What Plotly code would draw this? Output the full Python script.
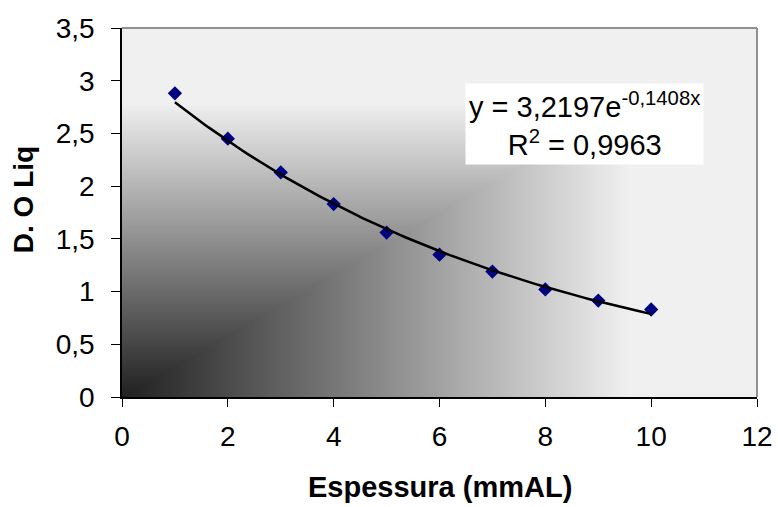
import numpy as np
import plotly.graph_objects as go

# Measured optical density vs. aluminium thickness
espessura = [1, 2, 3, 4, 5, 6, 7, 8, 9, 10]
do_liq = [2.88, 2.45, 2.13, 1.83, 1.56, 1.35, 1.19, 1.02, 0.915, 0.83]

# Exponential trendline coefficients: y = A * exp(k * x)
coef_a = 3.2197
coef_k = -0.1408
r2_label = "0,9963"

x_ticks = [0, 2, 4, 6, 8, 10, 12]
y_ticks = [0, 0.5, 1, 1.5, 2, 2.5, 3, 3.5]
y_ticktext = ["0", "0,5", "1", "1,5", "2", "2,5", "3", "3,5"]

FONT = "Liberation Sans, Arial, sans-serif"
X_MAX, Y_MAX = 12, 3.5

# Corner gradient behind the plot: dark at the origin, fading out to light grey
n = 160
gx = np.linspace(0, X_MAX, n)
gy = np.linspace(0, Y_MAX, n)
u, v = np.meshgrid(gx / X_MAX, gy / Y_MAX)
shade = np.maximum(u, v)

fig = go.Figure()
fig.add_trace(go.Heatmap(
    x=gx, y=gy, z=shade, zmin=0, zmax=1, zsmooth="best",
    colorscale=[[0, "#202020"], [0.8, "#f0f0f0"], [1, "#f0f0f0"]],
    showscale=False, hoverinfo="skip",
))

fig.add_trace(go.Scatter(
    x=espessura, y=do_liq, mode="markers",
    marker=dict(symbol="diamond", size=11, color="#000080", line=dict(width=0)),
    showlegend=False,
))

trend_x = np.linspace(min(espessura), max(espessura), 100)
trend_y = coef_a * np.exp(coef_k * trend_x)
fig.add_trace(go.Scatter(
    x=trend_x, y=trend_y, mode="lines",
    line=dict(color="black", width=2.5),
    showlegend=False, hoverinfo="skip",
))

fmt = lambda val: f"{val}".replace(".", ",")
eq_text = (f"y = {fmt(coef_a)}e<sup>{fmt(coef_k)}x</sup><br>"
           f"R<sup>2</sup> = {r2_label}")

fig.update_layout(
    width=778, height=507,
    margin=dict(l=122, r=21, t=28, b=110, autoexpand=False),
    paper_bgcolor="white",
    plot_bgcolor="white",
    font=dict(family=FONT, size=28, color="black"),
    xaxis=dict(
        range=[0, X_MAX], tickvals=x_ticks, ticktext=[str(t) for t in x_ticks],
        ticks="outside", ticklen=8, tickwidth=1, tickcolor="black",
        showline=True, linecolor="black", linewidth=1.5,
        showgrid=False, zeroline=False, ticklabelstandoff=6,
        tickfont=dict(size=28), automargin=False,
    ),
    yaxis=dict(
        range=[0, Y_MAX], tickvals=y_ticks, ticktext=y_ticktext,
        ticks="outside", ticklen=9, tickwidth=1, tickcolor="black",
        showline=True, linecolor="black", linewidth=1.5,
        showgrid=False, zeroline=False, ticklabelstandoff=11,
        tickfont=dict(size=28), automargin=False,
    ),
    shapes=[
        dict(type="line", xref="x domain", yref="y domain", x0=0, x1=1, y0=1, y1=1,
             line=dict(color="#909090", width=2), layer="above"),
        dict(type="line", xref="x domain", yref="y domain", x0=1, x1=1, y0=0, y1=1,
             line=dict(color="#909090", width=2), layer="above"),
    ],
    annotations=[
        dict(x=8.74, y=2.585, xref="x", yref="y", text=eq_text, showarrow=False,
             xanchor="center", yanchor="middle", align="center",
             bgcolor="white", borderpad=3, font=dict(size=29, family=FONT)),
        dict(x=0.5, y=-0.245, xref="paper", yref="paper", text="<b>Espessura (mmAL)</b>",
             showarrow=False, xanchor="center", yanchor="middle",
             font=dict(size=29, family=FONT)),
        dict(x=-0.155, y=0.535, xref="paper", yref="paper", text="<b>D. O Liq</b>",
             showarrow=False, xanchor="center", yanchor="middle", textangle=-90,
             font=dict(size=28, family=FONT)),
    ],
)

fig.write_html("out.html")
